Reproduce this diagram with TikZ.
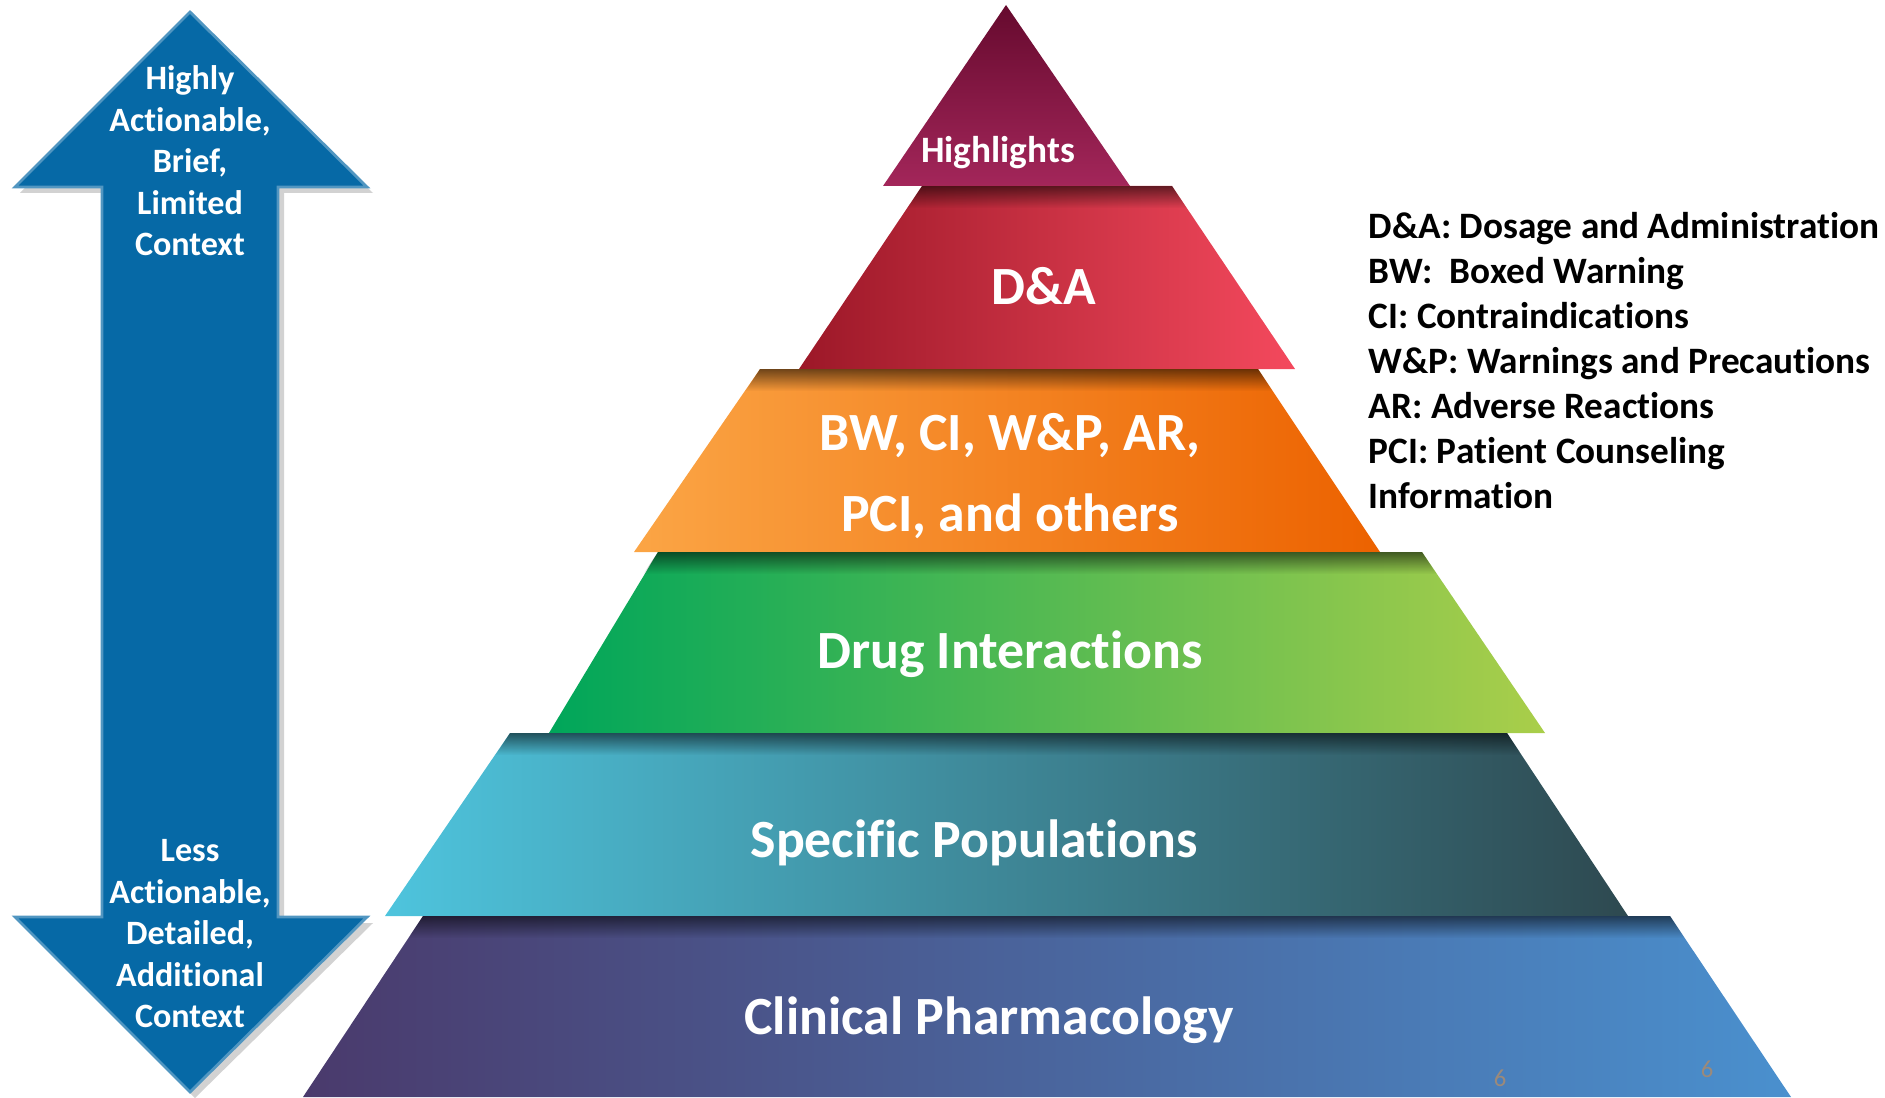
\documentclass[tikz,border=0pt]{standalone}
\usepackage{fontspec}
\setmainfont[Ligatures={NoCommon}]{Carlito}
\usepackage{xcolor}
\usetikzlibrary{fadings}

\definecolor{hlTop}{HTML}{660A2E}
\definecolor{hlBot}{HTML}{A3265A}
\definecolor{daL}{HTML}{9C1828}
\definecolor{daR}{HTML}{F4495D}
\definecolor{orL}{HTML}{FBA545}
\definecolor{orR}{HTML}{EC6200}
\definecolor{grL}{HTML}{00A65A}
\definecolor{grR}{HTML}{AACE4A}
\definecolor{tlL}{HTML}{4EC4DD}
\definecolor{tlR}{HTML}{2E4950}
\definecolor{blL}{HTML}{4A3A6C}
\definecolor{blR}{HTML}{4A90CE}
\definecolor{arrowblue}{HTML}{0669A6}
\definecolor{pagenum}{HTML}{9C8A7A}

\tikzfading[name=layershade, top color=transparent!45, bottom color=transparent!100]

\begin{document}
\begin{tikzpicture}[x=0.01cm, y=-0.01cm,
    lvltext/.style={text=white, font=\bfseries\fontsize{15.3}{23.2}\selectfont, align=center, inner sep=0pt},
    arrowtext/.style={text=white, font=\bfseries\fontsize{9.7}{11.8}\selectfont, align=center, inner sep=0pt},
    legendtext/.style={text=black, font=\bfseries\fontsize{10.6}{12.8}\selectfont, align=left, inner sep=0pt}]
    \useasboundingbox (0,0) rectangle (1885,1097);

    % double arrow on the left
    \fill [black!35, opacity=0.5] (195,18) -- (373,193) -- (284,193) -- (284,923) -- (373,923) -- (195,1098) -- (20,923) -- (107,923) -- (107,193) -- (20,193) -- cycle;
    \draw [arrowblue!70!white, fill=arrowblue, line width=0.8pt] (190,12) -- (367,187) -- (278,187) -- (278,917) -- (367,917) -- (190,1092) -- (15,917) -- (102,917) -- (102,187) -- (15,187) -- cycle;
    \node [arrowtext] (up) at (190,161) {Highly\\Actionable,\\Brief,\\Limited\\Context};
    \node [arrowtext] (down) at (190,934) {Less\\Actionable,\\Detailed,\\Additional\\Context};

    % pyramid, top to bottom
    \shade [top color=hlTop, bottom color=hlBot] (1006,5) -- (1130,186) -- (883,186) -- cycle;
    \shade [left color=daL, right color=daR] (922,186) -- (1172,186) -- (1295,369) -- (799,369) -- cycle;
    \shade [left color=orL, right color=orR] (760,369) -- (1258,369) -- (1380,552) -- (634,552) -- cycle;
    \shade [left color=grL, right color=grR] (658,552) -- (1422,552) -- (1545,733) -- (549,733) -- cycle;
    \shade [left color=tlL, right color=tlR] (510,733) -- (1507,733) -- (1628,916) -- (385,916) -- cycle;
    \shade [left color=blL, right color=blR] (423,916) -- (1670,916) -- (1791,1097) -- (303,1097) -- cycle;

    % shadow under each step
    \foreach \xa/\xb/\ya in {922/1172/186, 760/1258/369, 658/1422/552, 510/1507/733, 423/1670/916} {
        \begin{scope}
            \clip (\xa-60,\ya) rectangle (\xb+60,\ya+22);
            \clip (\xa,\ya) -- (\xb,\ya) -- (\xb+100,\ya+150) -- (\xa-100,\ya+150) -- cycle;
            \fill [black, path fading=layershade] (\xa-60,\ya) rectangle (\xb+60,\ya+22);
        \end{scope}
    }

    \node [lvltext, font=\bfseries\fontsize{10.6}{12}\selectfont] (hl) at (998,153) {Highlights};
    \node [lvltext] (da) at (1044,286) {D\&A};
    \node [lvltext] (bw) at (1010,476) {BW, CI, W\&P, AR,\\PCI, and others};
    \node [lvltext] (di) at (1010,654) {Drug Interactions};
    \node [lvltext] (sp) at (974,843) {Specific Populations};
    \node [lvltext] (cp) at (989,1020) {Clinical Pharmacology};

    % abbreviations
    \node [legendtext, anchor=north west] (legend) at (1368,212) {D\&A: Dosage and Administration\\BW:\ \ Boxed Warning\\CI: Contraindications\\W\&P: Warnings and Precautions\\AR: Adverse Reactions\\PCI: Patient Counseling\\Information};

    \node [text=pagenum, font=\fontsize{7}{8}\selectfont, inner sep=0pt] (pga) at (1500,1078) {6};
    \node [text=pagenum, font=\fontsize{7}{8}\selectfont, inner sep=0pt] (pgb) at (1707,1069) {6};
\end{tikzpicture}
\end{document}
